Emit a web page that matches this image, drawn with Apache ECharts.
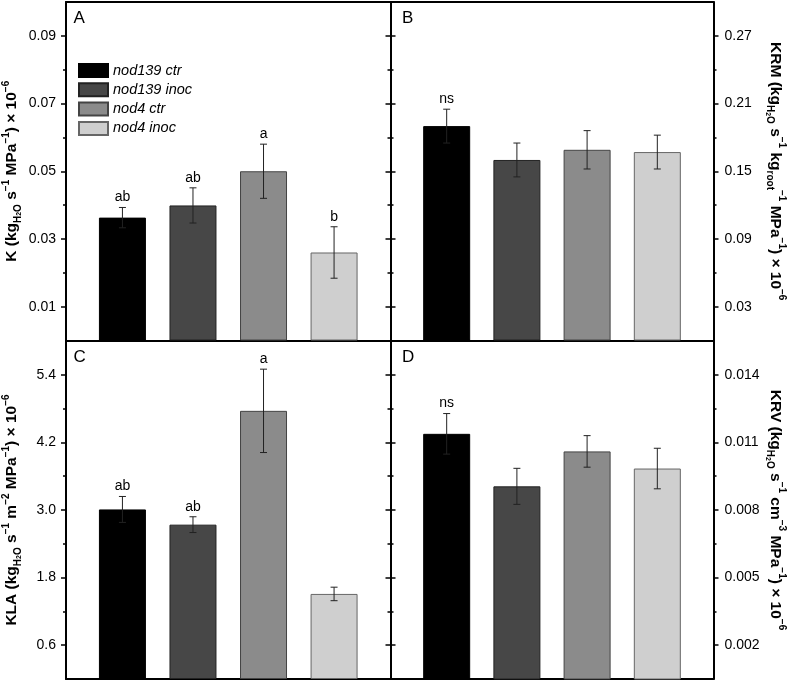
<!DOCTYPE html>
<html>
<head>
<meta charset="utf-8">
<style>html,body{margin:0;padding:0;background:#fff;}#chart{width:790px;height:682px;}</style>
<script src="https://cdn.jsdelivr.net/npm/echarts@6/dist/echarts.min.js"></script>
</head>
<body>
<div id="chart"></div>
<script>
// ---- data ----
const groups = ['nod139 ctr', 'nod139 inoc', 'nod4 ctr', 'nod4 inoc'];
const positions = [1, 2, 3, 4];

const kValues = [0.0363, 0.0399, 0.0500, 0.0260];
const kErrors = [0.0030, 0.0052, 0.0080, 0.0076];
const kLetters = ['ab', 'ab', 'a', 'b'];
const kTicks = [0.01, 0.03, 0.05, 0.07, 0.09];
const kMinorTicks = [0.02, 0.04, 0.06, 0.08];

const krmValues = [0.190, 0.160, 0.169, 0.167];
const krmErrors = [0.015, 0.015, 0.017, 0.015];
const krmLetters = ['ns', '', '', ''];
const krmTicks = [0.03, 0.09, 0.15, 0.21, 0.27];
const krmMinorTicks = [0.06, 0.12, 0.18, 0.24];

const klaValues = [3.01, 2.74, 4.76, 1.51];
const klaErrors = [0.23, 0.14, 0.74, 0.12];
const klaLetters = ['ab', 'ab', 'a', ''];
const klaTicks = [0.6, 1.8, 3.0, 4.2, 5.4];
const klaMinorTicks = [1.2, 2.4, 3.6, 4.8];

const krvValues = [0.01138, 0.00905, 0.01060, 0.00984];
const krvErrors = [0.0009, 0.0008, 0.0007, 0.0009];
const krvLetters = ['ns', '', '', ''];
const krvTicks = [0.002, 0.005, 0.008, 0.011, 0.014];
const krvMinorTicks = [0.0035, 0.0065, 0.0095, 0.0125];

const panelLetters = ['A', 'B', 'C', 'D'];
const kName = '{a|K (kg}{s|H}{ss|2}{s|O}{a| s}{p|−1}{a| MPa}{p|−1}{a|) × 10}{p|−6}';
const krmName = '{a|KRM (kg}{s|H}{ss|2}{s|O}{a| s}{p|−1}{a| kg}{s|root}{p|−1}{a| MPa}{p|−1}{a|) × 10}{p|−6}';
const klaName = '{a|KLA (kg}{s|H}{ss|2}{s|O}{a| s}{p|−1}{a| m}{p|−2}{a| MPa}{p|−1}{a|) × 10}{p|−6}';
const krvName = '{a|KRV (kg}{s|H}{ss|2}{s|O}{a| s}{p|−1}{a| cm}{p|−3}{a| MPa}{p|−1}{a|) × 10}{p|−6}';

// ---- styles ----
const FONT = '"Liberation Sans", Arial, Helvetica, sans-serif';
const fillColors = ['#000000', '#474747', '#8b8b8b', '#cfcfcf'];
const borderColors = ['#000000', '#222222', '#444444', '#666666'];

const panels = [
  {values: kValues, errors: kErrors, letters: kLetters, min: 0, max: 0.1, ticks: kTicks, minor: kMinorTicks, dec: 2, name: kName, side: 'left',
   grid: {left: 66, top: 2, width: 324.5, height: 338.5}, letterPos: {left: 73.5, top: 9.5}},
  {values: krmValues, errors: krmErrors, letters: krmLetters, min: 0, max: 0.3, ticks: krmTicks, minor: krmMinorTicks, dec: 2, name: krmName, side: 'right',
   grid: {left: 390.5, top: 2, width: 323, height: 338.5}, letterPos: {left: 402, top: 9.5}},
  {values: klaValues, errors: klaErrors, letters: klaLetters, min: 0, max: 6, ticks: klaTicks, minor: klaMinorTicks, dec: 1, name: klaName, side: 'left',
   grid: {left: 66, top: 341, width: 324.5, height: 338}, letterPos: {left: 73.5, top: 348.5}},
  {values: krvValues, errors: krvErrors, letters: krvLetters, min: 0.0005, max: 0.0155, ticks: krvTicks, minor: krvMinorTicks, dec: 3, name: krvName, side: 'right',
   grid: {left: 390.5, top: 341, width: 323, height: 338}, letterPos: {left: 402, top: 348.5}}
];

const richName = {
  a: {fontSize: 15.5, fontWeight: 'bold', lineHeight: 22, verticalAlign: 'middle', color: '#000', fontFamily: FONT},
  s: {fontSize: 10, fontWeight: 'bold', lineHeight: 12, verticalAlign: 'bottom', color: '#000', fontFamily: FONT},
  ss: {fontSize: 7, fontWeight: 'bold', lineHeight: 7, verticalAlign: 'bottom', color: '#000', fontFamily: FONT},
  p: {fontSize: 10, fontWeight: 'bold', lineHeight: 12, verticalAlign: 'top', color: '#000', fontFamily: FONT}
};

const grids = [], xAxes = [], yAxes = [], series = [], titles = [];

panels.forEach((pn, gi) => {
  grids.push(Object.assign({containLabel: false}, pn.grid));
  titles.push({text: panelLetters[gi], left: pn.letterPos.left, top: pn.letterPos.top, padding: 0,
    textStyle: {fontSize: 17, fontWeight: 'normal', color: '#000', fontFamily: FONT}});
  ['bottom', 'top'].forEach(pos => {
    xAxes.push({type: 'value', gridIndex: gi, position: pos, min: 0.2, max: 4.8,
      axisLine: {show: true, onZero: false, lineStyle: {color: '#000', width: 2}},
      axisTick: {show: false}, axisLabel: {show: false}, splitLine: {show: false}});
  });
  ['left', 'right'].forEach(side => {
    const labeled = side === pn.side;
    const major = {
      type: 'value', gridIndex: gi, position: side, min: pn.min, max: pn.max,
      axisLine: {show: true, onZero: false, lineStyle: {color: '#000', width: 2}},
      axisTick: {show: true, inside: false, length: 5, customValues: pn.ticks, lineStyle: {color: '#000', width: 1.5}},
      axisLabel: {show: labeled, customValues: pn.ticks, formatter: v => Number(v).toFixed(pn.dec),
        margin: side === 'left' ? 10 : 11, fontSize: 14, color: '#000', fontFamily: FONT},
      splitLine: {show: false}
    };
    if (labeled) {
      major.name = pn.name;
      major.nameLocation = 'middle';
      major.nameRotate = side === 'left' ? 90 : -90;
      major.nameGap = side === 'left' ? 43 : 51;
      major.nameTextStyle = {rich: richName, color: '#000', fontFamily: FONT};
    }
    yAxes.push(major);
    yAxes.push({
      type: 'value', gridIndex: gi, position: side, min: pn.min, max: pn.max,
      axisLine: {show: false, onZero: false},
      axisTick: {show: true, inside: false, length: 3, customValues: pn.minor, lineStyle: {color: '#000', width: 1.5}},
      axisLabel: {show: false}, splitLine: {show: false}
    });
  });
  const xi = gi * 2, yi = gi * 4;
  groups.forEach((g, k) => {
    series.push({
      type: 'bar', name: g, xAxisIndex: xi, yAxisIndex: yi,
      data: [[positions[k], pn.values[k]]],
      barWidth: 47, barGap: '-100%', silent: true,
      itemStyle: {color: fillColors[k], borderColor: borderColors[k], borderWidth: 1}
    });
  });
  const letters = pn.letters;
  series.push({
    type: 'custom', xAxisIndex: xi, yAxisIndex: yi, silent: true, z: 10,
    data: positions.map((p, k) => [p, pn.values[k] - pn.errors[k], pn.values[k] + pn.errors[k]]),
    renderItem: (params, api) => {
      const x = api.value(0), lo = api.value(1), hi = api.value(2);
      const t = api.coord([x, hi]), b = api.coord([x, lo]);
      const cap = 3.5;
      const st = {stroke: '#222', lineWidth: 1};
      const children = [
        {type: 'line', shape: {x1: t[0], y1: t[1], x2: b[0], y2: b[1]}, style: st},
        {type: 'line', shape: {x1: t[0] - cap, y1: t[1], x2: t[0] + cap, y2: t[1]}, style: st},
        {type: 'line', shape: {x1: b[0] - cap, y1: b[1], x2: b[0] + cap, y2: b[1]}, style: st}
      ];
      const txt = letters[params.dataIndex];
      if (txt) {
        children.push({type: 'text', x: t[0], y: t[1] - 3,
          style: {text: txt, font: '14px ' + FONT, fill: '#000', align: 'center', verticalAlign: 'bottom',
            textAlign: 'center', textVerticalAlign: 'bottom'}});
      }
      return {type: 'group', children};
    }
  });
});

const option = {
  animation: false,
  backgroundColor: '#ffffff',
  textStyle: {fontFamily: FONT},
  title: titles,
  legend: {
    data: groups, left: 78, top: 63, orient: 'vertical', padding: 0,
    itemWidth: 29, itemHeight: 13, itemGap: 4.3, selectedMode: false, icon: 'rect',
    textStyle: {fontStyle: 'italic', fontSize: 14.5, lineHeight: 13, color: '#000', fontFamily: FONT}
  },
  grid: grids,
  xAxis: xAxes,
  yAxis: yAxes,
  series: series
};

const chart = echarts.init(document.getElementById('chart'), null, {renderer: 'canvas'});
chart.setOption(option);
</script>
</body>
</html>
